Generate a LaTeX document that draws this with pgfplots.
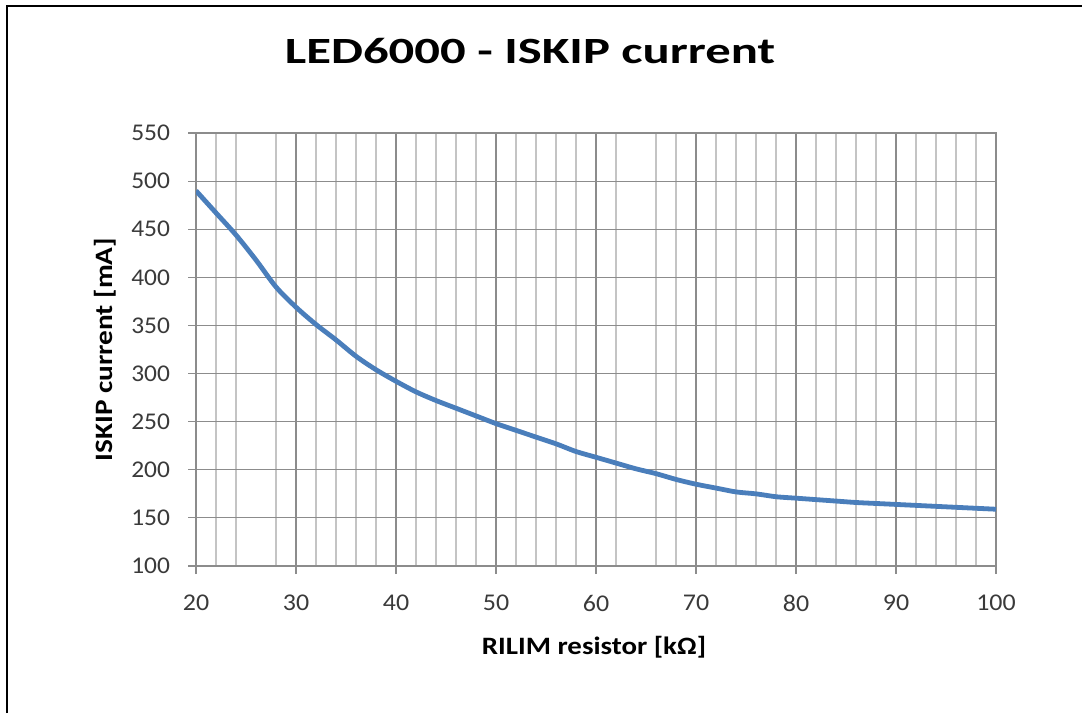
\documentclass[border=0pt]{standalone}
\usepackage{fontspec}
\setmainfont{Carlito}
\usepackage{pgfplots}
\pgfplotsset{compat=1.18}
\definecolor{curve}{HTML}{4A7EBB}
\definecolor{majgrid}{HTML}{8C8C8C}
\definecolor{mingrid}{HTML}{C4C4C4}
\definecolor{ticktext}{HTML}{3A3A3A}
\begin{document}
\begin{tikzpicture}
\path[use as bounding box] (0,0) rectangle (541pt,-356.5pt);
\draw[line width=1.3pt] (3.5pt,-356.5pt) -- (3.5pt,-3pt) -- (541pt,-3pt);
\begin{axis}[
  at={(98pt,-283pt)}, anchor=south west,
  scale only axis, width=400pt, height=216.5pt,
  xmin=20, xmax=100, ymin=100, ymax=550,
  xtick={20,30,...,100}, ytick={100,150,...,550},
  minor xtick={22,24,28,32,34,36,38,42,44,46,48,52,54,56,58,62,66,68,72,74,76,78,82,84,86,88,92,94,96,98},
  xmajorgrids, ymajorgrids, xminorgrids,
  major grid style={majgrid, line width=0.6pt},
  minor grid style={mingrid, line width=0.6pt},
  axis line style={majgrid, line width=0.6pt},
  tick style={majgrid, line width=0.6pt},
  major tick length=4pt, minor tick length=0pt,
  tick align=outside, tick pos=left,
  tick label style={font=\fontsize{12}{14}\selectfont, text=ticktext},
  /pgf/number format/assume math mode=true,
  xticklabel={\scalebox{1.08}[1]{\pgfmathprintnumber{\tick}}},
  yticklabel={\scalebox{1.06}[1]{\pgfmathprintnumber{\tick}}},
  xticklabel style={yshift=-7pt},
  yticklabel style={xshift=-5.5pt},
  title={\scalebox{1.37}[1]{LED6000 - ISKIP current}},
  title style={at={(axis description cs:0.4175,1.1617)}, anchor=base, yshift=-6.5pt, font=\fontsize{18.5}{22}\selectfont\bfseries},
  xlabel={\scalebox{1.155}[1]{RILIM resistor [kΩ]}},
  xlabel style={at={(axis description cs:0.4975,-0.2055)}, anchor=base, font=\fontsize{12.5}{15}\selectfont\bfseries},
  ylabel={\scalebox{1.17}[1]{ISKIP current [mA]}},
  ylabel style={at={(axis description cs:-0.105,0.5)}, anchor=base, rotate=0, font=\fontsize{12.5}{15}\selectfont\bfseries},
]
\addplot[curve, line width=2.4pt, smooth] coordinates {
(20,490) (22,467) (24,444) (26,418) (28,390) (30,369) (32,351) (34,335) (36,318) (38,304)
(40,292) (42,281) (44,272) (46,264) (48,256) (50,248) (52,241) (54,234) (56,227) (58,219)
(60,213) (62,207) (64,201) (66,196) (68,190) (70,185) (72,181) (74,177) (76,175) (78,172)
(80,170.5) (82,169) (84,167.5) (86,166) (88,165) (90,164) (92,163) (94,162) (96,161) (98,160) (100,159)
};
\end{axis}
\end{tikzpicture}
\end{document}
